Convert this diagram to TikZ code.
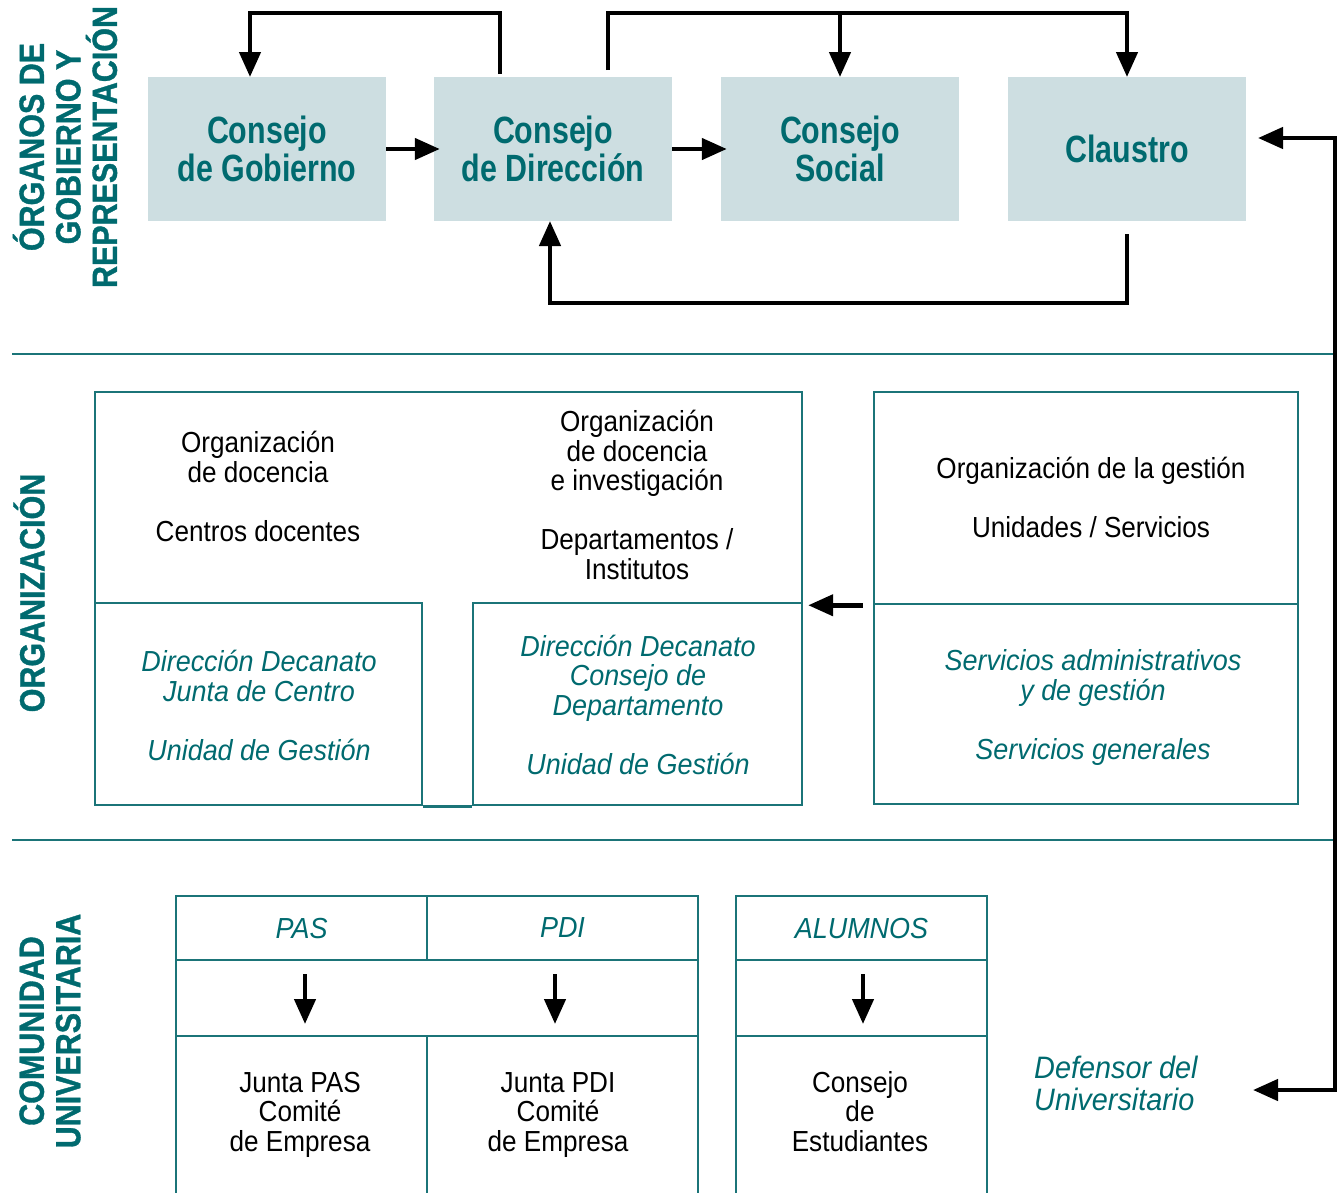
\documentclass[tikz,border=0pt]{standalone}
\usepackage{fontspec}
\setmainfont{Liberation Sans}[UprightFeatures={FakeStretch=0.9}, ItalicFeatures={FakeStretch=0.93}]
\newfontfamily\organofont{Liberation Sans}[FakeStretch=0.8]
\newfontfamily\ladofont{Liberation Sans}[FakeStretch=0.87, BoldFeatures={FakeBold=1}]
\usetikzlibrary{arrows.meta}
\definecolor{uteal}{HTML}{006A6F}
\definecolor{uline}{HTML}{1B7478}
\definecolor{ubox}{HTML}{CDDEE1}
\begin{document}
\begin{tikzpicture}[x=1pt, y=-1pt,
    organo/.style={fill=ubox, minimum width=238pt, minimum height=144pt, inner sep=0pt, align=center, text=uteal, font=\organofont\bfseries\fontsize{38}{38}\selectfont},
    caja/.style={draw=uline, line width=2.5pt, inner sep=0pt},
    celda/.style={caja, text=uteal, font=\itshape\fontsize{29}{29.5}\selectfont},
    txt/.style={align=center, anchor=base, inner sep=0pt, font=\fontsize{29}{29.5}\selectfont},
    itx/.style={txt, text=uteal, font=\itshape\fontsize{29}{29.5}\selectfont},
    lado/.style={rotate=90, align=center, inner sep=0pt, text=uteal, font=\ladofont\bfseries\fontsize{35}{36.5}\selectfont},
    flecha/.style={line width=4.5pt, -{Triangle[length=25pt,width=21pt]}},
    sep/.style={draw=uline, line width=2.5pt}]
  \useasboundingbox (0,0) rectangle (1343,1192);

  % side titles
  \node[lado] (lGob) at (65,147) {ÓRGANOS DE\\GOBIERNO Y\\REPRESENTACIÓN};
  \node[lado] (lOrg) at (29,593) {ORGANIZACIÓN};
  \node[lado] (lCom) at (50,1031) {COMUNIDAD\\UNIVERSITARIA};

  % separators
  \draw[sep] (12,354) -- (1335,354);
  \draw[sep] (12,840) -- (1335,840);

  % governing bodies
  \node[organo] (gob) at (267,149) {Consejo\\de Gobierno};
  \node[organo] (dir) at (553,149) {Consejo\\de Dirección};
  \node[organo] (soc) at (840,149) {Consejo\\Social};
  \node[organo] (cla) at (1127,149) {Claustro};

  \draw[flecha, shorten >=-6pt] (gob) -- (dir);
  \draw[flecha, shorten >=-6pt] (dir) -- (soc);

  \coordinate (dA) at (500,74);
  \coordinate (gA) at (250,77);
  \draw[flecha] (dA) -- ++(0,-61) -| (gA);

  \coordinate (dB) at (608,70);
  \coordinate (jA) at (840,13);
  \coordinate (sA) at (840,77);
  \coordinate (cA) at (1127,77);
  \draw[flecha] (dB) -- ++(0,-57) -| (cA);
  \draw[flecha] (jA) -- (sA);

  \coordinate (cB) at (1127,234);
  \coordinate (dC) at (550,221);
  \draw[flecha] (cB) -- ++(0,69) -| (dC);

  \coordinate (cC) at (1258,138);
  \coordinate (fA) at (1253,1090);
  \draw[line width=4.5pt, {Triangle[length=25pt,width=21pt]}-{Triangle[length=25pt,width=21pt]}] (cC) -- ++(77,0) |- (fA);

  % organization
  \node[minimum width=707pt, minimum height=211pt, inner sep=0pt] (docA) at (448.5,497.5) {};
  \draw[sep] (docA.south west) -- (docA.north west) -- (docA.north east) -- (docA.south east);
  \node[caja, minimum width=327pt, minimum height=202pt] (cenB) at (258.5,704) {};
  \node[caja, minimum width=329pt, minimum height=202pt] (depB) at (637.5,704) {};
  \draw[sep] (cenB.south east) -- (depB.south west);
  \node[caja, minimum width=424pt, minimum height=212pt] (gesA) at (1086,498) {};
  \node[caja, minimum width=424pt, minimum height=200pt] (gesB) at (1086,704) {};

  \draw[flecha, shorten <=10pt, shorten >=6pt] (gesA.south west) -- (gesA.south west -| docA.east);

  \node[txt] (tDoc) at (258,541) {Organización\\de docencia\\[29.5pt]Centros docentes};
  \node[txt] (tInv) at (637,579) {Organización\\de docencia\\e investigación\\[29.5pt]Departamentos /\\Institutos};
  \node[itx] (tCen) at (259,760) {Dirección Decanato\\Junta de Centro\\[29.5pt]Unidad de Gestión};
  \node[itx] (tDep) at (638,774) {Dirección Decanato\\Consejo de\\Departamento\\[29.5pt]Unidad de Gestión};
  \node[txt] (tGes) at (1091,537) {Organización de la gestión\\[29.5pt]Unidades / Servicios};
  \node[itx] (tSer) at (1093,759) {Servicios administrativos\\y de gestión\\[29.5pt]Servicios generales};

  % university community
  \node[celda, minimum width=251pt, minimum height=64pt] (pas) at (301.5,928) {PAS};
  \node[celda, minimum width=271pt, minimum height=64pt] (pdi) at (562.5,928) {PDI};
  \node[celda, minimum width=251pt, minimum height=64pt] (alu) at (861.5,928) {ALUMNOS};
  \node[caja, minimum width=522pt, minimum height=76pt] (pMid) at (437,998) {};
  \node[caja, minimum width=251pt, minimum height=76pt] (aMid) at (861.5,998) {};
  \node[caja, minimum width=251pt, minimum height=174pt] (jPas) at (301.5,1123) {};
  \node[caja, minimum width=271pt, minimum height=174pt] (jPdi) at (562.5,1123) {};
  \node[caja, minimum width=251pt, minimum height=174pt] (cEst) at (861.5,1123) {};

  \coordinate (pA) at (305,974);
  \coordinate (pB) at (305,1024);
  \coordinate (qA) at (555,974);
  \coordinate (qB) at (555,1024);
  \coordinate (uA) at (863,974);
  \coordinate (uB) at (863,1024);
  \draw[flecha] (pA) -- (pB);
  \draw[flecha] (qA) -- (qB);
  \draw[flecha] (uA) -- (uB);

  \node[txt] (tPas) at (300,1151) {Junta PAS\\Comité\\de Empresa};
  \node[txt] (tPdi) at (558,1151) {Junta PDI\\Comité\\de Empresa};
  \node[txt] (tEst) at (860,1151) {Consejo\\de\\Estudiantes};

  \node[itx, anchor=base west, align=left, font=\itshape\fontsize{31}{32}\selectfont] (def) at (1034,1110) {Defensor del\\Universitario};
\end{tikzpicture}
\end{document}
